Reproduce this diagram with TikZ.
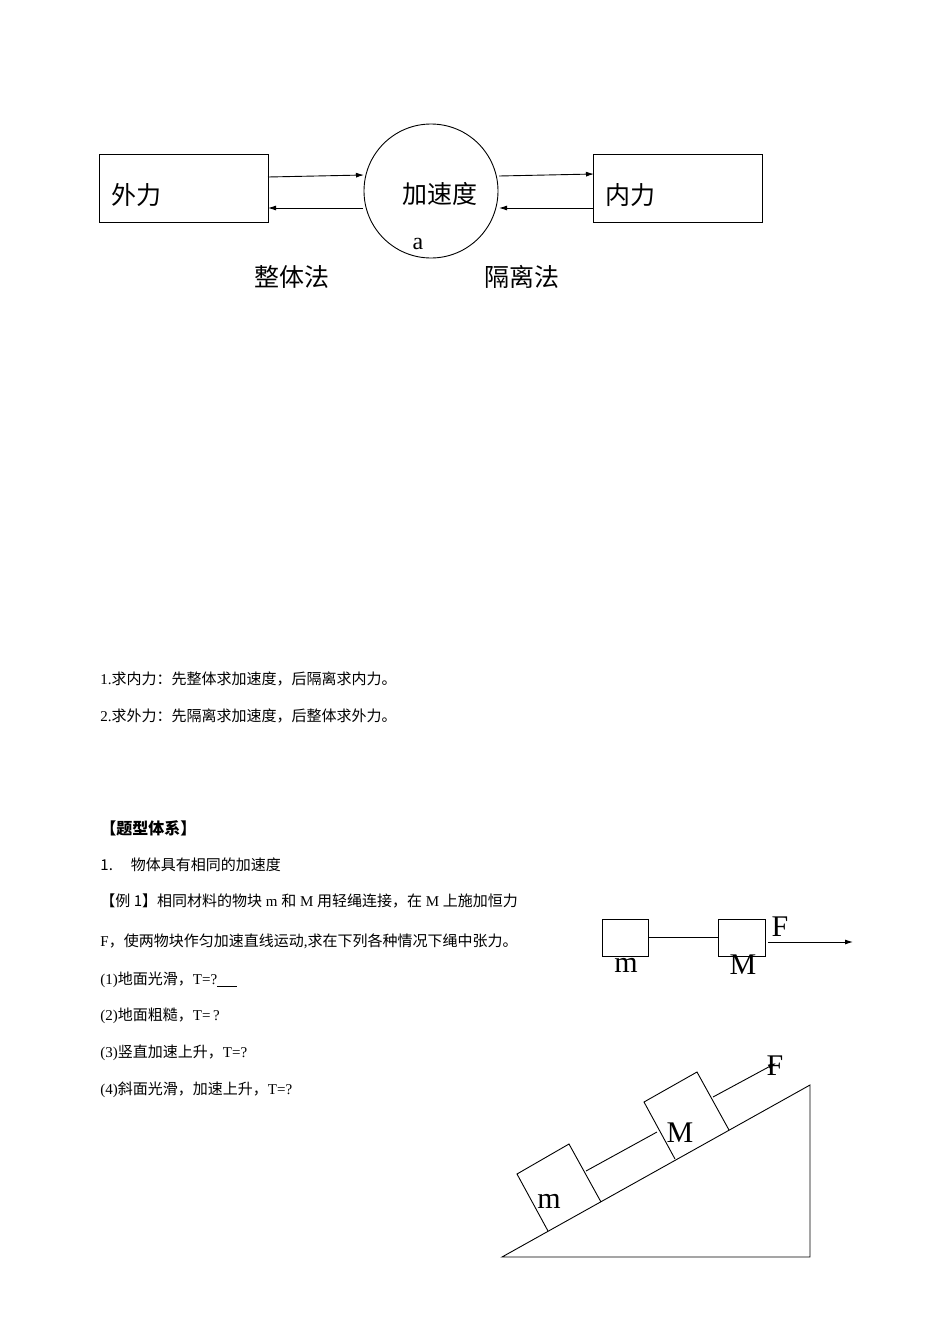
\documentclass[tikz,border=0pt]{standalone}
\usepackage{fontspec}
\setmainfont{Liberation Serif}
\newfontfamily\cjk{Noto Sans CJK SC}
\usetikzlibrary{arrows.meta}
\begin{document}
\begin{tikzpicture}[x=1pt,y=-1pt,line width=0.9pt,
  big/.style={font=\fontsize{25}{28}\selectfont\cjk},
  txt/.style={anchor=west,inner sep=0,font=\fontsize{15}{17}\selectfont},
  arr/.style={-{Latex[length=8pt,width=5pt]}},
  bx/.style={draw,minimum width=46pt,minimum height=37pt,inner sep=0}]
\useasboundingbox (0,0) rectangle (950,1344);
% top diagram
\node[draw,minimum width=169pt,minimum height=68pt] (wl) at (183.5,188) {};
\node[draw,minimum width=169pt,minimum height=68pt] (nl) at (677.5,188) {};
\node[draw,circle,minimum size=134pt,inner sep=0] (ac) at (431,191) {};
\node[big] (t1) at (136,195) {\cjk 外力};
\node[big] (t2) at (630,195) {\cjk 内力};
\node[big] (t3) at (440,194) {\cjk 加速度};
\node[font=\fontsize{24}{26}\selectfont] (ta) at (418,244) {a};
\node[big] (t4) at (292,277) {\cjk 整体法};
\node[big] (t5) at (522,277) {\cjk 隔离法};
\coordinate (a1) at (268,177); \coordinate (a2) at (364,175);
\coordinate (b1) at (363,208); \coordinate (b2) at (268,208);
\coordinate (c1) at (499,176); \coordinate (c2) at (594,174);
\coordinate (d1) at (593,208); \coordinate (d2) at (499,208);
\draw[arr] (a1)--(a2); \draw[arr] (b1)--(b2);
\draw[arr] (c1)--(c2); \draw[arr] (d1)--(d2);
% text
\node[txt] (l1) at (100,679) {1.{\cjk 求内力：先整体求加速度，后隔离求内力。}};
\node[txt] (l2) at (100,716) {2.{\cjk 求外力：先隔离求加速度，后整体求外力。}};
\node[txt,font=\fontsize{16}{18}\selectfont\cjk\bfseries] (h1) at (100,828) {【题型体系】};
\node[txt,font=\fontsize{15}{17}\selectfont\cjk] (h2) at (100,865) {1.\hspace{18pt}物体具有相同的加速度};
\node[txt] (e1) at (100,901) {{\cjk 【例 1】相同材料的物块} m {\cjk 和} M {\cjk 用轻绳连接，在} M {\cjk 上施加恒力}};
\node[txt] (e2) at (100,941) {F{\cjk ，使两物块作匀加速直线运动}{,}{\cjk 求在下列各种情况下绳中张力。}};
\node[txt] (e3) at (100,980) {(1){\cjk 地面光滑，}T=?\underline{\hspace{20pt}}};
\node[txt] (e4) at (100,1016) {(2){\cjk 地面粗糙，}T=\,?};
\node[txt] (e5) at (100,1053) {(3){\cjk 竖直加速上升，}T=?};
\node[txt] (e6) at (100,1090) {(4){\cjk 斜面光滑，加速上升，}T=?};
% horizontal blocks
\node[bx] (hm) at (625,937.5) {};
\node[bx,minimum width=47pt] (hM) at (741.5,937.5) {};
\draw (hm.east) -- (hM.west);
\coordinate (f1) at (768,942); \coordinate (f2) at (853,942);
\draw[arr] (f1)--(f2);
\node[font=\fontsize{30}{32}\selectfont] (hF) at (780,927) {F};
\node[font=\fontsize{30}{32}\selectfont] (hml) at (626,965) {m};
\node[font=\fontsize{30}{32}\selectfont] (hMl) at (743,965) {M};
% incline
\draw (502,1257) -- (810,1257) -- (810,1085) -- cycle;
\draw (548,1231) -- (517,1174) -- (569,1144) -- (601,1202);
\draw (675,1159) -- (644,1102) -- (697,1072) -- (729,1130);
\coordinate (r1) at (586,1171); \coordinate (r2) at (657,1132);
\draw (r1)--(r2);
\coordinate (s1) at (713,1097); \coordinate (s2) at (776,1063);
\draw[arr] (s1)--(s2);
\node[font=\fontsize{30}{32}\selectfont] (iF) at (775,1066) {F};
\node[font=\fontsize{30}{32}\selectfont] (im) at (549,1201) {m};
\node[font=\fontsize{30}{32}\selectfont] (iM) at (680,1133) {M};
\end{tikzpicture}
\end{document}
